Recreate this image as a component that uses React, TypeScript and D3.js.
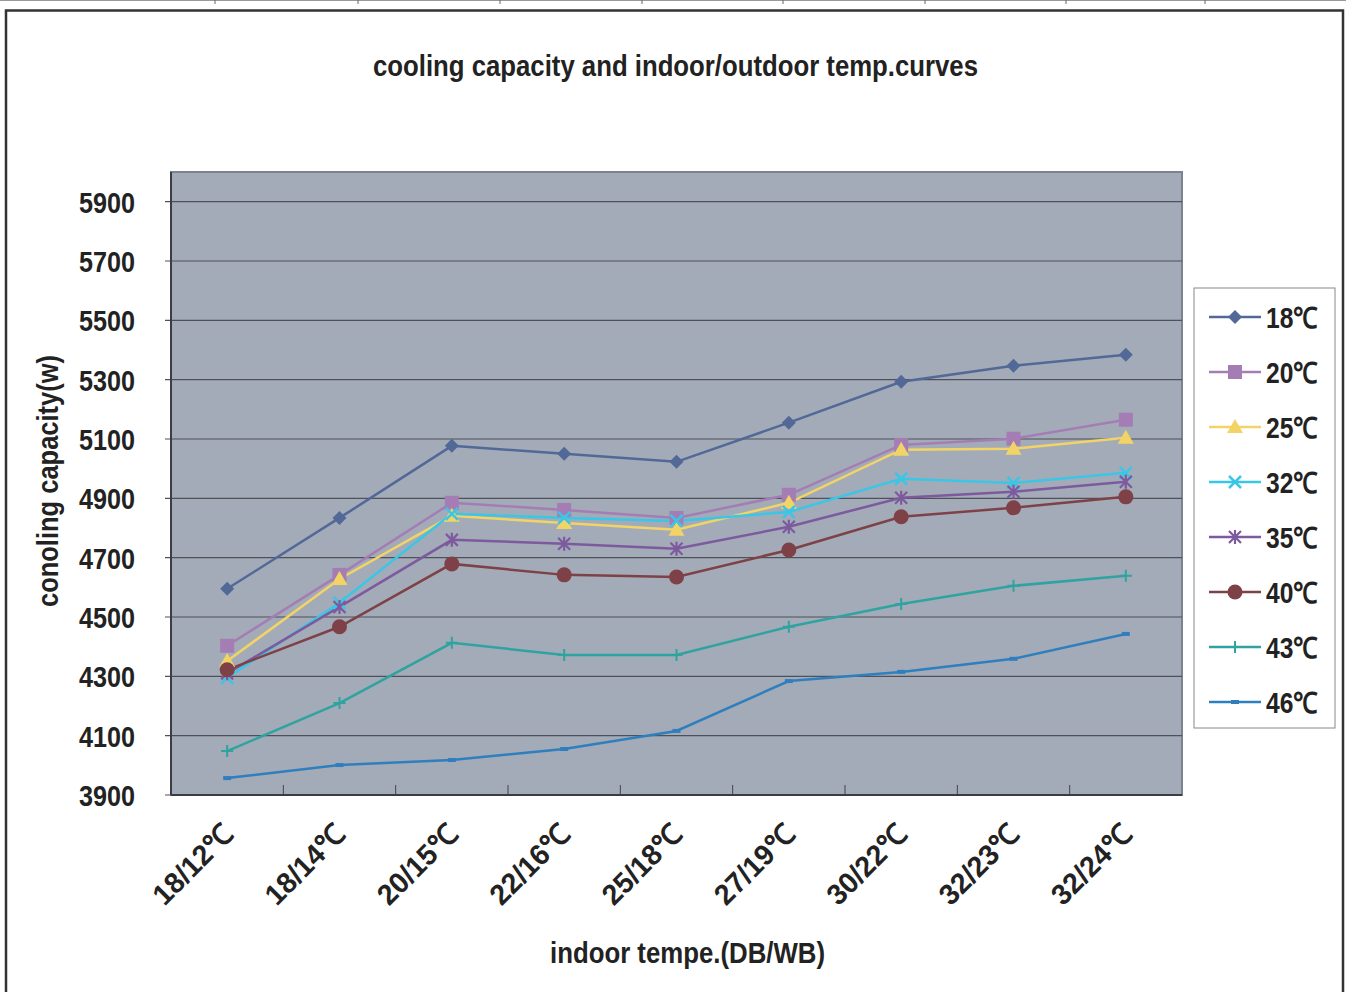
import React from 'react';
import * as d3 from 'd3';

const categories = ['18/12℃', '18/14℃', '20/15℃', '22/16℃', '25/18℃', '27/19℃', '30/22℃', '32/23℃', '32/24℃'];
const seriesNames = ['18℃', '20℃', '25℃', '32℃', '35℃', '40℃', '43℃', '46℃'];
const s18 = [4595, 4834, 5077, 5050, 5023, 5155, 5293, 5347, 5384];
const s20 = [4403, 4642, 4885, 4861, 4834, 4912, 5080, 5101, 5165];
const s25 = [4352, 4628, 4841, 4817, 4794, 4885, 5064, 5067, 5104];
const s32 = [4295, 4548, 4848, 4834, 4824, 4854, 4966, 4952, 4986];
const s35 = [4310, 4534, 4760, 4747, 4730, 4804, 4902, 4922, 4956];
const s40 = [4322, 4467, 4679, 4642, 4635, 4726, 4838, 4868, 4905];
const s43 = [4048, 4210, 4413, 4372, 4372, 4467, 4544, 4605, 4639];
const s46 = [3957, 4001, 4018, 4055, 4116, 4284, 4315, 4359, 4443];
const yTicks = [3900, 4100, 4300, 4500, 4700, 4900, 5100, 5300, 5500, 5700, 5900];

const colors = ['#526897', '#a47db5', '#f2d466', '#3ac6e6', '#7d5a9e', '#7e4147', '#2fa3a0', '#2f7fbe'];
const markers = ['diamond', 'square', 'triangle', 'x', 'asterisk', 'circle', 'plus', 'dash'];
const allSeries = [s18, s20, s25, s32, s35, s40, s43, s46];

const FONT = '"Liberation Sans Narrow", "Arial Narrow", "Liberation Sans", sans-serif';

const plot = { left: 171, top: 172, right: 1182, bottom: 795 };

function Marker({ type, x, y, color }: { type: string; x: number; y: number; color: string }) {
  switch (type) {
    case 'diamond':
      return <path d={`M${x},${y - 7}L${x + 7},${y}L${x},${y + 7}L${x - 7},${y}Z`} fill={color} />;
    case 'square':
      return <rect x={x - 7} y={y - 7} width={14} height={14} fill={color} />;
    case 'triangle':
      return <path d={`M${x},${y - 8}L${x + 8},${y + 6}L${x - 8},${y + 6}Z`} fill={color} />;
    case 'x':
      return (
        <path d={`M${x - 6},${y - 6}L${x + 6},${y + 6}M${x - 6},${y + 6}L${x + 6},${y - 6}`} stroke={color} strokeWidth={2.5} />
      );
    case 'asterisk':
      return (
        <path
          d={`M${x - 6},${y - 6}L${x + 6},${y + 6}M${x - 6},${y + 6}L${x + 6},${y - 6}M${x},${y - 7}L${x},${y + 7}`}
          stroke={color}
          strokeWidth={2.2}
        />
      );
    case 'circle':
      return <circle cx={x} cy={y} r={7.5} fill={color} />;
    case 'plus':
      return <path d={`M${x - 6},${y}L${x + 6},${y}M${x},${y - 6}L${x},${y + 6}`} stroke={color} strokeWidth={2} />;
    case 'dash':
      return <rect x={x - 4} y={y - 2} width={8} height={4} fill={color} />;
    default:
      return null;
  }
}

export default function App() {
  const x = d3.scaleBand<string>().domain(categories).range([plot.left, plot.right]);
  const y = d3.scaleLinear().domain([3900, 6000]).range([plot.bottom, plot.top]);
  const cx = (c: string) => (x(c) || 0) + x.bandwidth() / 2;
  const line = d3
    .line<number>()
    .x((_, i) => cx(categories[i]))
    .y(d => y(d));

  const legendTop = 317;
  const legendStep = 55;

  return (
    <svg width={1346} height={992} style={{ position: 'absolute', left: 0, top: 0, background: '#fff' }}>
      {/* page frame */}
      <line x1={0} y1={0.5} x2={1346} y2={0.5} stroke="#999" />
      {[215, 358, 500, 642, 783, 925, 1066, 1205].map(t => (
        <line key={t} x1={t} y1={0} x2={t} y2={4} stroke="#666" />
      ))}
      <rect x={6} y={10.5} width={1337} height={1000} fill="none" stroke="#333" strokeWidth={2.5} />

      <text x={373} y={76} textLength={605} lengthAdjust="spacingAndGlyphs" fontFamily={FONT} fontWeight="bold" fontSize={29} fill="#222">
        cooling capacity and indoor/outdoor temp.curves
      </text>

      {/* plot area */}
      <rect x={plot.left} y={plot.top} width={plot.right - plot.left} height={plot.bottom - plot.top} fill="#a3abb8" stroke="#7c8290" strokeWidth={2} />
      {yTicks.map(t => (
        <g key={t}>
          <line x1={plot.left - 6} x2={plot.right} y1={y(t)} y2={y(t)} stroke="#4f5158" strokeWidth={1.2} />
          <text x={79} y={y(t) + 11} textLength={56} lengthAdjust="spacingAndGlyphs" fontFamily={FONT} fontWeight="bold" fontSize={30} fill="#222">
            {t}
          </text>
        </g>
      ))}
      {categories.slice(1).map(c => (
        <line key={c} x1={x(c)} x2={x(c)} y1={plot.bottom} y2={plot.bottom - 10} stroke="#444" />
      ))}
      <line x1={plot.left} x2={plot.left} y1={plot.top} y2={plot.bottom} stroke="#3a3d44" strokeWidth={2} />
      <line x1={plot.left} x2={plot.right} y1={plot.bottom} y2={plot.bottom} stroke="#3a3d44" strokeWidth={2} />

      {/* series */}
      {allSeries.map((s, si) => (
        <path key={si} d={line(s) || ''} fill="none" stroke={colors[si]} strokeWidth={2.5} />
      ))}
      {allSeries.map((s, si) =>
        s.map((v, i) => <Marker key={`${si}-${i}`} type={markers[si]} x={cx(categories[i])} y={y(v)} color={colors[si]} />)
      )}

      {/* x labels */}
      {categories.map(c => (
        <text
          key={c}
          transform={`translate(${cx(c) + 8},${836}) rotate(-45)`}
          textAnchor="end"
          textLength={100}
          lengthAdjust="spacingAndGlyphs"
          fontFamily={FONT}
          fontWeight="bold"
          fontSize={29}
          fill="#222"
        >
          {c}
        </text>
      ))}

      <text x={550} y={963} textLength={275} lengthAdjust="spacingAndGlyphs" fontFamily={FONT} fontWeight="bold" fontSize={30} fill="#222">
        indoor tempe.(DB/WB)
      </text>
      <text transform="translate(58,607) rotate(-90)" textLength={252} lengthAdjust="spacingAndGlyphs" fontFamily={FONT} fontWeight="bold" fontSize={30} fill="#222">
        conoling capacity(w)
      </text>

      {/* legend */}
      <rect x={1194} y={288} width={141} height={440} fill="#fff" stroke="#888" />
      {seriesNames.map((n, i) => {
        const ly = legendTop + i * legendStep;
        return (
          <g key={n}>
            <line x1={1209} x2={1261} y1={ly} y2={ly} stroke={colors[i]} strokeWidth={2.5} />
            <Marker type={markers[i]} x={1235} y={ly} color={colors[i]} />
            <text x={1266} y={ly + 11} textLength={52} lengthAdjust="spacingAndGlyphs" fontFamily={FONT} fontWeight="bold" fontSize={29} fill="#222">
              {n}
            </text>
          </g>
        );
      })}
    </svg>
  );
}
